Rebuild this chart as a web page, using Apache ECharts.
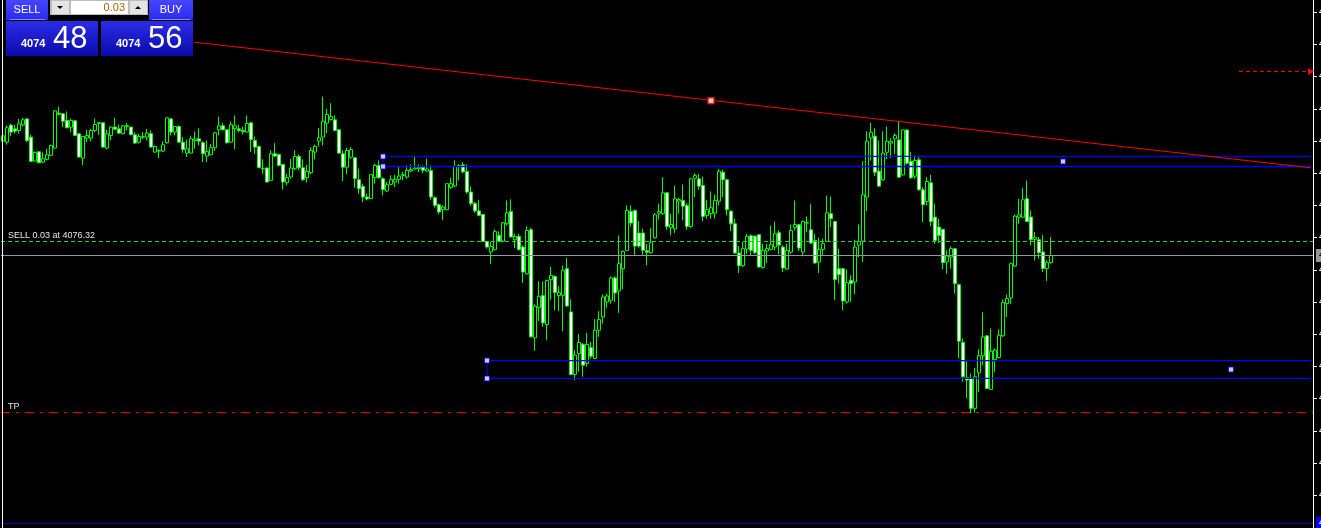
<!DOCTYPE html>
<html><head><meta charset="utf-8">
<script src="https://cdn.jsdelivr.net/npm/echarts@6/dist/echarts.min.js"></script>
<style>html,body{margin:0;padding:0;background:#000;overflow:hidden}#c{width:1321px;height:528px}</style>
</head><body><div id="c"></div><script>
const opens=[4089.4,4089.27,4091.49,4091.0,4090.79,4091.53,4092.3,4089.92,4086.8,4088.01,4086.67,4087.02,4087.54,4088.49,4093.05,4092.96,4092.1,4091.23,4092.05,4090.36,4087.19,4089.79,4089.79,4090.79,4091.7,4091.79,4088.49,4090.14,4091.23,4091.0,4090.36,4091.3,4091.23,4090.23,4089.27,4089.9,4089.92,4090.36,4087.97,4088.1,4088.1,4089.19,4092.3,4090.58,4091.31,4089.27,4087.84,4087.84,4089.5,4089.7,4089.19,4087.45,4087.62,4088.54,4090.88,4091.4,4090.88,4089.27,4091.05,4091.0,4090.79,4090.58,4091.79,4089.49,4088.71,4085.8,4085.89,4084.28,4087.75,4087.67,4086.37,4083.98,4084.72,4085.8,4087.41,4085.93,4084.63,4085.28,4087.97,4089.4,4089.92,4091.75,4092.2,4092.18,4090.88,4087.75,4086.0,4087.3,4087.23,4084.37,4083.5,4082.11,4081.9,4084.63,4086.23,4084.5,4082.9,4083.76,4084.06,4084.41,4084.93,4084.72,4085.5,4085.76,4085.8,4086.0,4085.5,4085.58,4082.02,4081.11,4080.46,4080.46,4083.33,4083.55,4086.05,4086.3,4085.45,4082.76,4081.25,4080.3,4079.84,4076.32,4074.93,4075.24,4077.1,4076.36,4078.62,4080.23,4076.54,4076.97,4075.58,4072.1,4077.84,4063.74,4067.68,4069.25,4065.47,4071.33,4071.76,4069.25,4069.29,4072.76,4067.12,4058.96,4061.7,4062.9,4060.39,4062.48,4061.05,4064.74,4066.47,4068.42,4068.64,4071.55,4069.86,4072.76,4075.15,4080.23,4080.36,4077.41,4077.41,4075.1,4074.85,4076.8,4080.01,4079.93,4082.66,4078.1,4077.97,4081.57,4081.66,4081.01,4078.27,4084.57,4084.48,4083.61,4079.71,4079.93,4080.01,4081.57,4085.35,4084.35,4080.27,4078.62,4074.8,4073.15,4075.32,4077.06,4077.0,4077.19,4072.9,4075.06,4075.28,4075.58,4077.45,4075.58,4072.72,4074.93,4078.1,4078.49,4074.93,4078.7,4077.84,4076.45,4073.63,4075.28,4076.32,4079.93,4078.92,4072.76,4072.76,4068.42,4071.24,4071.03,4075.84,4076.36,4082.1,4089.82,4090.04,4085.48,4084.35,4087.95,4089.13,4089.69,4089.56,4085.0,4090.86,4086.78,4084.83,4086.96,4083.05,4081.53,4083.96,4079.49,4078.19,4077.89,4073.63,4074.28,4075.37,4070.68,4063.13,4058.53,4058.44,4054.54,4059.18,4061.4,4064.0,4057.01,4060.92,4061.18,4064.0,4068.21,4068.95,4073.11,4079.49,4079.49,4081.88,4079.49,4076.58,4076.54,4074.93,4072.77,4073.55];
const closes=[4090.1,4091.14,4090.58,4090.7,4091.66,4092.18,4089.49,4086.76,4087.93,4086.58,4087.1,4087.62,4088.84,4093.35,4092.9,4092.0,4091.14,4092.1,4090.14,4087.32,4090.0,4090.14,4090.79,4091.57,4091.8,4088.62,4090.36,4091.23,4090.95,4090.45,4091.4,4091.44,4090.23,4089.14,4090.0,4090.0,4090.45,4088.62,4088.71,4088.2,4088.93,4092.44,4090.58,4091.31,4089.27,4088.32,4088.4,4089.7,4089.7,4089.4,4087.75,4088.06,4088.54,4090.49,4091.4,4090.88,4089.19,4091.53,4091.4,4090.79,4090.62,4091.7,4089.58,4088.62,4085.93,4085.85,4084.06,4087.75,4087.45,4086.23,4084.07,4084.63,4085.89,4087.41,4085.93,4084.37,4085.45,4088.19,4088.71,4089.84,4092.0,4092.88,4092.6,4090.79,4087.84,4086.0,4088.19,4088.28,4084.5,4083.2,4082.11,4081.85,4085.02,4086.23,4084.63,4083.07,4083.72,4084.37,4084.41,4084.85,4085.02,4085.58,4085.7,4085.89,4086.0,4085.6,4085.76,4082.11,4081.03,4080.16,4080.8,4083.85,4083.85,4086.1,4086.23,4085.4,4082.76,4081.25,4080.3,4079.72,4076.32,4075.58,4075.67,4077.62,4076.36,4078.75,4080.05,4076.9,4076.97,4075.24,4072.33,4077.75,4063.87,4067.86,4069.16,4065.69,4071.24,4071.9,4069.64,4069.64,4072.54,4067.9,4058.96,4061.48,4063.13,4060.18,4062.87,4061.35,4064.74,4066.12,4069.07,4069.2,4071.55,4069.6,4073.41,4075.02,4080.36,4078.71,4075.71,4075.71,4075.15,4074.9,4076.23,4079.8,4080.2,4082.66,4078.27,4078.53,4081.88,4081.79,4080.92,4078.27,4084.48,4084.91,4083.53,4079.58,4080.45,4080.71,4081.66,4085.48,4084.35,4080.45,4078.62,4074.8,4073.15,4075.37,4076.97,4075.15,4074.85,4072.98,4075.15,4075.37,4075.89,4077.32,4075.84,4072.85,4075.15,4077.75,4078.53,4075.45,4078.92,4078.8,4076.1,4073.5,4075.28,4076.02,4080.05,4079.28,4071.33,4071.98,4068.55,4070.94,4070.81,4075.58,4076.32,4082.4,4089.39,4090.56,4085.35,4083.53,4087.82,4089.39,4089.34,4090.13,4084.7,4090.86,4086.52,4084.61,4086.87,4083.05,4081.1,4084.13,4078.93,4076.45,4077.1,4073.55,4074.41,4075.37,4070.81,4063.3,4058.66,4058.23,4054.54,4058.66,4061.4,4063.87,4057.14,4062.0,4062.13,4064.09,4068.34,4068.86,4073.42,4079.62,4079.8,4081.75,4078.93,4076.54,4076.8,4074.85,4072.77,4073.55,4074.48];
const lows=[4089.3,4088.93,4090.05,4090.36,4090.36,4091.31,4089.27,4086.67,4086.76,4086.5,4086.54,4086.89,4087.45,4088.49,4092.75,4091.23,4091.1,4090.58,4090.05,4087.3,4086.28,4089.27,4089.36,4090.58,4090.2,4088.49,4088.32,4089.49,4090.88,4090.36,4090.3,4090.79,4090.2,4089.06,4089.06,4089.7,4089.49,4088.54,4087.88,4087.2,4087.97,4089.06,4090.14,4090.14,4089.19,4087.88,4087.32,4087.75,4088.4,4088.84,4086.67,4086.67,4087.54,4088.1,4090.14,4090.79,4089.1,4089.19,4088.36,4090.58,4090.27,4090.49,4087.97,4087.75,4085.9,4085.15,4084.0,4084.2,4087.32,4086.1,4083.1,4083.63,4084.5,4085.58,4085.58,4084.2,4084.0,4085.1,4087.0,4088.7,4088.84,4090.45,4092.1,4090.7,4087.75,4084.2,4085.06,4087.1,4083.33,4082.55,4081.46,4081.68,4081.85,4083.85,4084.5,4082.33,4082.76,4083.63,4083.4,4083.85,4084.28,4084.5,4085.36,4085.71,4085.36,4085.23,4085.36,4081.76,4080.73,4079.85,4079.1,4080.4,4083.2,4083.4,4084.28,4085.2,4082.55,4080.95,4080.03,4079.6,4076.23,4075.37,4073.4,4075.15,4076.23,4076.2,4078.4,4076.8,4075.45,4075.15,4070.9,4072.0,4063.78,4062.04,4065.95,4065.17,4063.43,4068.73,4067.34,4067.21,4064.6,4067.77,4058.87,4058.22,4059.31,4058.66,4059.96,4061.05,4060.96,4063.87,4065.6,4067.64,4068.2,4068.42,4066.99,4070.07,4075.06,4078.27,4074.5,4075.5,4074.5,4073.2,4074.71,4076.67,4079.19,4079.8,4077.84,4077.1,4077.41,4079.93,4079.06,4077.84,4078.1,4082.1,4083.05,4078.97,4079.28,4079.28,4079.28,4081.01,4082.1,4079.71,4077.67,4074.71,4072.2,4072.98,4074.71,4074.5,4074.63,4072.9,4072.76,4073.5,4075.15,4075.15,4074.63,4072.33,4072.63,4074.71,4077.75,4075.06,4074.37,4077.54,4076.0,4073.41,4072.2,4074.5,4076.23,4078.19,4068.64,4070.81,4067.34,4068.2,4068.42,4069.42,4074.28,4073.63,4080.27,4086.87,4084.83,4083.49,4084.26,4087.08,4087.21,4087.74,4084.61,4084.92,4086.35,4084.48,4084.48,4082.96,4078.84,4081.01,4078.28,4076.02,4076.1,4072.68,4072.11,4072.77,4069.51,4061.05,4058.01,4055.84,4053.89,4053.97,4056.71,4060.18,4057.06,4056.93,4059.31,4061.05,4063.87,4066.47,4068.12,4072.98,4078.62,4079.41,4078.84,4075.8,4073.85,4074.07,4072.33,4071.16,4073.42];
const highs=[4090.2,4091.44,4091.66,4091.53,4092.3,4092.44,4092.35,4090.23,4088.06,4088.1,4087.93,4088.4,4088.93,4093.4,4093.9,4093.05,4093.27,4092.35,4092.1,4090.4,4090.1,4090.88,4091.0,4092.35,4091.85,4091.83,4090.88,4091.31,4092.44,4091.57,4091.45,4091.75,4091.3,4090.58,4090.36,4090.58,4091.0,4090.79,4088.84,4088.32,4089.36,4092.5,4092.4,4091.35,4091.44,4089.92,4089.58,4090.1,4090.66,4091.1,4089.36,4089.49,4089.06,4090.58,4092.6,4091.75,4090.92,4091.96,4092.75,4091.53,4091.31,4092.75,4091.83,4090.0,4088.8,4087.02,4086.0,4088.19,4089.14,4087.75,4086.45,4085.15,4087.1,4088.19,4087.67,4087.02,4086.3,4088.6,4088.93,4091.1,4095.2,4093.6,4094.35,4092.75,4090.92,4088.19,4088.54,4088.6,4087.32,4085.8,4083.85,4082.55,4085.1,4086.45,4086.9,4084.72,4084.07,4084.93,4085.0,4086.0,4085.4,4086.23,4086.37,4087.45,4086.37,4086.23,4087.1,4086.23,4082.2,4081.25,4081.03,4083.9,4084.63,4086.9,4086.4,4086.67,4086.37,4083.5,4081.46,4081.76,4079.9,4076.4,4076.3,4077.88,4077.62,4078.8,4081.66,4081.8,4077.32,4077.32,4075.8,4078.27,4078.1,4068.12,4071.11,4071.11,4071.3,4072.98,4071.9,4070.46,4073.2,4074.15,4068.77,4062.13,4064.22,4063.08,4064.39,4063.21,4066.17,4067.21,4069.38,4069.51,4071.76,4071.76,4077.1,4075.15,4081.01,4081.01,4080.45,4078.97,4077.97,4076.0,4078.06,4080.0,4081.23,4084.7,4082.7,4079.93,4083.61,4081.97,4083.74,4081.31,4084.61,4085.22,4085.13,4084.78,4081.75,4082.83,4082.44,4085.78,4085.65,4084.48,4080.36,4079.28,4075.71,4076.23,4077.32,4077.23,4077.1,4077.25,4076.02,4076.02,4078.4,4078.92,4077.75,4075.8,4076.02,4078.53,4081.66,4078.62,4079.06,4079.58,4081.23,4077.32,4076.8,4076.67,4082.31,4082.18,4078.95,4075.37,4072.8,4072.67,4071.9,4076.54,4078.53,4086.74,4090.69,4091.77,4091.08,4089.47,4090.69,4091.3,4089.78,4090.43,4092.08,4090.91,4090.91,4087.95,4087.52,4087.3,4083.4,4084.7,4085.0,4081.23,4079.28,4077.97,4075.15,4075.67,4075.45,4070.81,4063.65,4060.74,4059.09,4059.83,4062.27,4067.12,4064.09,4064.95,4062.35,4064.87,4068.77,4069.38,4073.55,4079.8,4081.88,4083.31,4084.26,4080.36,4077.54,4076.89,4077.19,4073.85,4076.89];
const priceTicks=[4106.20,4102.00,4097.80,4093.60,4089.40,4085.20,4081.00,4076.80,4072.60,4068.40,4064.20,4060.00,4055.80,4051.60,4047.40,4043.20];
const bidPrice=4074.48, askPrice=4074.56, sellPrice=4076.32, lotSize='0.03';
const tpPrice=4054.00, alertPrice=4098.48, lowerLinePrice=4039.52;
const trendLine=[[0,4105.11],[327,4085.92]];
const trendHandle=[[177,4094.68]];
const zoneUpper={start:95,end:327,top:4087.40,bottom:4086.09,handle:265};
const zoneLower={start:121,end:327,top:4060.78,bottom:4058.44,handle:307};
const slotCount=328;

const cats=Array.from({length:slotCount},(_,i)=>String(i));
const ohlc=opens.map((o,i)=>[o,closes[i],lows[i],highs[i]]);
const BLUE='#0000ff';
function seg(data,color,width,type){return {type:'line',data,symbol:'none',silent:true,lineStyle:{color,width:width||1,type:type||'solid'},z:3};}
function zoneSeries(z){
  return [
    seg([[z.start,z.top],[z.end,z.top]],BLUE,1.3),
    seg([[z.start,z.bottom],[z.end,z.bottom]],BLUE,1.3),
    seg([[z.start,z.top],[z.start,z.bottom]],BLUE,1),
    {type:'scatter',data:[[z.start,z.top],[z.start,z.bottom],[z.handle,(z.top+z.bottom)/2]],symbol:'rect',symbolSize:5,silent:true,z:5,
     itemStyle:{color:'#fff',borderColor:BLUE,borderWidth:1}}
  ];
}
const chart=echarts.init(document.getElementById('c'));
const FF='Liberation Sans, Arial, sans-serif';
const option={
  backgroundColor:'#000',
  animation:false,
  grid:{left:1,right:8,top:0,bottom:0,containLabel:false,outerBoundsMode:'none'},
  xAxis:{type:'category',data:cats,show:false,boundaryGap:true},
  yAxis:{type:'value',position:'right',min:4038.934,max:4107.81,scale:true,
    splitLine:{show:false},
    axisLine:{show:true,onZero:false,lineStyle:{color:'#ffffff',width:1}},
    axisTick:{show:true,length:4,lineStyle:{color:'#ffffff'},customValues:priceTicks},
    axisLabel:{show:true,customValues:priceTicks,margin:6,color:'#ffffff',fontSize:10,fontFamily:FF,formatter:v=>v.toFixed(2)}
  },
  series:[
    {type:'candlestick',data:ohlc,barWidth:3,z:2,
     itemStyle:{color:'#000000',color0:'#ffffff',borderColor:'#00ff00',borderColor0:'#00ff00',borderWidth:1},
     markLine:{symbol:'none',silent:true,animation:false,
       data:[
        {yAxis:sellPrice,lineStyle:{color:'#32cd32',type:[4,3],width:1,opacity:1},
         label:{show:true,position:'insideStartTop',formatter:'SELL '+lotSize+' at '+sellPrice.toFixed(2),color:'#e8e8e8',fontSize:9,fontFamily:FF,distance:[7,1]}},
        {yAxis:bidPrice,lineStyle:{color:'#8f98a3',type:'solid',width:1,opacity:1},
         label:{show:true,position:'end',formatter:bidPrice.toFixed(2),color:'#000',backgroundColor:'#8f98a3',padding:[2,3,1,3],fontSize:10,fontFamily:FF,distance:3}},
        {yAxis:tpPrice,lineStyle:{color:'#ff0000',type:[9,6,3,6],width:1,opacity:1},
         label:{show:true,position:'insideStartTop',formatter:'TP',color:'#e8e8e8',fontSize:9,fontFamily:FF,distance:[7,1]}},
        {yAxis:lowerLinePrice,lineStyle:{color:'#0000dd',type:'solid',width:1,opacity:1},
         label:{show:true,position:'end',formatter:lowerLinePrice.toFixed(2),color:'#fff',backgroundColor:'#0000ff',padding:[2,3,1,3],fontSize:10,fontFamily:FF,distance:3}},
        [{coord:[309,alertPrice],symbol:'none'},{coord:[327,alertPrice],symbol:'triangle',symbolSize:[7,6],
          lineStyle:{color:'#ff0000',type:[4,3],width:1,opacity:1},label:{show:false}}]
       ],
       label:{show:false}
     }
    },
    {type:'line',data:trendLine,symbol:'none',silent:true,lineStyle:{color:'#ff0000',width:1},z:4},
    {type:'scatter',data:trendHandle,symbol:'rect',symbolSize:6,silent:true,z:5,itemStyle:{color:'#fff',borderColor:'#ff0000',borderWidth:1.5}},
    ...zoneSeries(zoneUpper),
    ...zoneSeries(zoneLower)
  ],
  graphic:[
    {type:'rect',z:100,shape:{x:2,y:0,width:1,height:528},style:{fill:'#ffffff'}},
    {type:'rect',z:100,shape:{x:3,y:0,width:191,height:57},style:{fill:'#000'}},
    {type:'rect',z:101,shape:{x:6,y:0,width:42,height:20},style:{fill:new echarts.graphic.LinearGradient(0,0,0,1,[{offset:0,color:'#4646ff'},{offset:1,color:'#2a2aee'}])}},
    {type:'rect',z:102,shape:{x:10,y:19,width:35,height:1},style:{fill:'#8a8aff'}},
    {type:'text',z:103,style:{x:27,y:10,text:'SELL',font:'11px '+FF,fill:'#fff',align:'center',verticalAlign:'middle'}},
    {type:'rect',z:101,shape:{x:149,y:0,width:44,height:20},style:{fill:new echarts.graphic.LinearGradient(0,0,0,1,[{offset:0,color:'#4646ff'},{offset:1,color:'#2a2aee'}])}},
    {type:'rect',z:102,shape:{x:152,y:19,width:38,height:1},style:{fill:'#8a8aff'}},
    {type:'text',z:103,style:{x:171,y:10,text:'BUY',font:'11px '+FF,fill:'#fff',align:'center',verticalAlign:'middle'}},
    {type:'rect',z:101,shape:{x:50,y:0,width:98,height:15},style:{fill:'#bdbdbd'}},
    {type:'rect',z:102,shape:{x:52,y:1,width:17,height:13},style:{fill:'#e4e4e4'}},
    {type:'polygon',z:103,shape:{points:[[57,6],[63,6],[60,9]]},style:{fill:'#000'}},
    {type:'rect',z:102,shape:{x:71,y:1,width:57,height:13},style:{fill:'#ffffff'}},
    {type:'text',z:103,style:{x:125,y:8,text:lotSize,font:'11px '+FF,fill:'#b35c00',align:'right',verticalAlign:'middle'}},
    {type:'rect',z:102,shape:{x:130,y:1,width:17,height:13},style:{fill:'#e4e4e4'}},
    {type:'polygon',z:103,shape:{points:[[135,9],[141,9],[138,6]]},style:{fill:'#000'}},
    {type:'rect',z:101,shape:{x:6,y:21,width:92,height:35},style:{fill:new echarts.graphic.LinearGradient(0,0,0,1,[{offset:0,color:'#2c2ce6'},{offset:1,color:'#0a0aae'}])}},
    {type:'rect',z:101,shape:{x:101,y:21,width:92,height:35},style:{fill:new echarts.graphic.LinearGradient(0,0,0,1,[{offset:0,color:'#2c2ce6'},{offset:1,color:'#0a0aae'}])}},
    {type:'text',z:103,style:{x:21,y:49,text:String(Math.floor(bidPrice)),font:'bold 11px '+FF,fill:'#fff',align:'left',verticalAlign:'bottom'}},
    {type:'text',z:103,style:{x:53,y:39,text:bidPrice.toFixed(2).slice(-2),font:'31px '+FF,fill:'#fff',align:'left',verticalAlign:'middle'}},
    {type:'text',z:103,style:{x:116,y:49,text:String(Math.floor(askPrice)),font:'bold 11px '+FF,fill:'#fff',align:'left',verticalAlign:'bottom'}},
    {type:'text',z:103,style:{x:148,y:39,text:askPrice.toFixed(2).slice(-2),font:'31px '+FF,fill:'#fff',align:'left',verticalAlign:'middle'}}
  ]
};
chart.setOption(option);
</script></body></html>
